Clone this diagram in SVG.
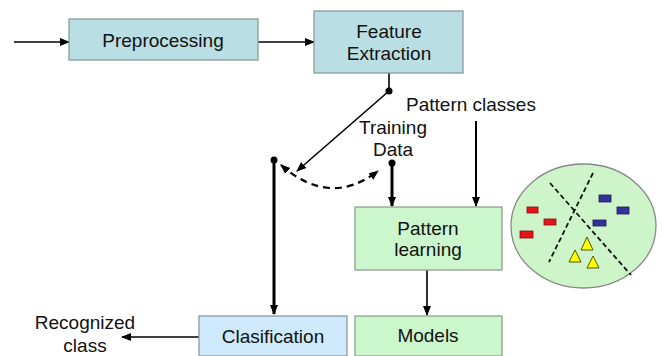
<svg xmlns="http://www.w3.org/2000/svg" width="662" height="356" viewBox="0 0 662 356">
<style>
text{font-family:"Liberation Sans",Arial,sans-serif;font-size:19px;fill:#111;text-anchor:middle}
.teal{fill:#b9dfe4;stroke:#8a9a9c;stroke-width:1.3}
.lblue{fill:#cde9fb;stroke:#8a9aa4;stroke-width:1.3}
.green{fill:#ccf7cc;stroke:#8fa08f;stroke-width:1.3}
.ln{stroke:#000;stroke-width:1.6;fill:none}
.thick{stroke:#000;stroke-width:3;fill:none}
.dash{stroke:#000;stroke-width:2.2;fill:none;stroke-dasharray:7,5}
.red{fill:#e8141c;stroke:#7a0a0a;stroke-width:0.8}
.blue{fill:#33339a;stroke:#1a1a55;stroke-width:0.8}
.yel{fill:#ffff00;stroke:#555500;stroke-width:1}
.sep{stroke:#111;stroke-width:1.8;stroke-dasharray:5,3;fill:none}
</style>
<defs>
<marker id="ah" markerUnits="userSpaceOnUse" markerWidth="10" markerHeight="10" viewBox="0 0 10 10" refX="9" refY="5" orient="auto-start-reverse"><path d="M0,1 L10,5 L0,9 Z" fill="#000"/></marker>
</defs>
<g id="connectors">
<line class="ln" x1="14" y1="42" x2="69" y2="42" marker-end="url(#ah)"/>
<line class="ln" x1="258" y1="42" x2="314" y2="42" marker-end="url(#ah)"/>
<line class="ln" x1="389" y1="73" x2="389" y2="91"/>
<circle cx="389" cy="91" r="3.5" fill="#000"/>
<line class="ln" x1="389" y1="91" x2="297" y2="171" marker-end="url(#ah)"/>
<circle cx="274" cy="160" r="3.5" fill="#000"/>
<line class="thick" x1="274" y1="160" x2="274" y2="314" marker-end="url(#ah)"/>
<path class="dash" d="M281,165 Q330,208 378,171" marker-start="url(#ah)" marker-end="url(#ah)"/>
<circle cx="392" cy="163" r="3.5" fill="#000"/>
<line class="thick" x1="392" y1="163" x2="392" y2="206" marker-end="url(#ah)"/>
<line class="ln" x1="476" y1="121" x2="476" y2="206" marker-end="url(#ah)" style="stroke-width:2"/>
<line class="ln" x1="427" y1="270" x2="427" y2="315" marker-end="url(#ah)"/>
<line class="ln" x1="199" y1="337" x2="122" y2="337" marker-end="url(#ah)"/>
</g>
<g id="preprocessing">
<rect class="teal" x="69" y="19" width="189" height="41"/>
<text x="163" y="47">Preprocessing</text>
</g>
<g id="feature-extraction">
<rect class="teal" x="314" y="11" width="149" height="62"/>
<text x="389" y="38">Feature</text>
<text x="389" y="60">Extraction</text>
</g>
<g id="pattern-classes">
<text x="471" y="111">Pattern classes</text>
</g>
<g id="training-data">
<text x="393" y="134">Training</text>
<text x="393" y="156">Data</text>
</g>
<g id="pattern-learning">
<rect class="green" x="355" y="207" width="147" height="63"/>
<text x="428" y="235">Pattern</text>
<text x="428" y="256">learning</text>
</g>
<g id="models">
<rect class="green" x="355" y="316" width="147" height="40"/>
<text x="428" y="342">Models</text>
</g>
<g id="classification">
<rect class="lblue" x="199" y="316" width="148" height="40"/>
<text x="273" y="343">Clasification</text>
</g>
<g id="recognized-class">
<text x="85" y="329">Recognized</text>
<text x="85" y="352">class</text>
</g>
<g id="cluster">
<ellipse cx="583.5" cy="226" rx="72.5" ry="62" fill="#cef5c9" stroke="#888" stroke-width="1.3"/>
<line class="sep" x1="550" y1="183" x2="631" y2="275"/>
<line class="sep" x1="593" y1="173" x2="549" y2="262"/>
<rect class="red" x="527" y="207" width="11" height="6"/>
<rect class="red" x="544" y="219" width="12" height="6"/>
<rect class="red" x="520" y="231" width="13" height="7"/>
<rect class="blue" x="599" y="195" width="12" height="7"/>
<rect class="blue" x="617" y="207" width="12" height="7"/>
<rect class="blue" x="593" y="220" width="13" height="6"/>
<polygon class="yel" points="587,237 593,250 581,250"/>
<polygon class="yel" points="575,250 581,262 569,262"/>
<polygon class="yel" points="593,256 599,268 587,268"/>
</g>
</svg>
